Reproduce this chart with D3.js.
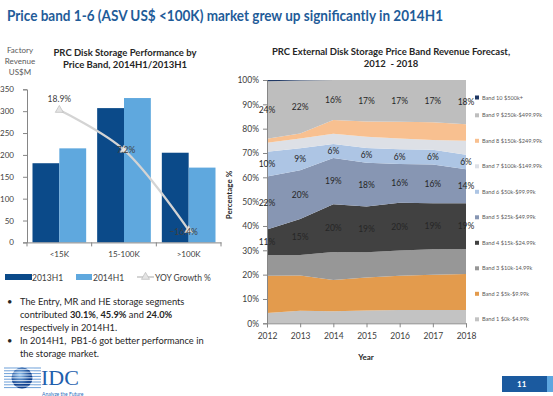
<!DOCTYPE html>
<html>
<head>
<meta charset="utf-8">
<script src="https://cdn.jsdelivr.net/npm/d3@7"></script>
<style>
  html, body { margin: 0; padding: 0; background: #fff; }
  svg { display: block; font-family: Lato, "Open Sans", sans-serif; }
</style>
</head>
<body>
<svg id="chart" width="553" height="396"></svg>
<script>
// ---------------- data: left chart ----------------
const categories = ["<15K", "15-100K", ">100K"];
const seriesNames = ["2013H1", "2014H1"];
const rev2013H1 = [181, 307, 205];
const rev2014H1 = [215, 330, 171];
const yoyGrowth = [18.9, 7.2, -16.4];
const revenueTicks = [0, 50, 100, 150, 200, 250, 300, 350];

// ---------------- data: right chart ----------------
const years = [2012, 2013, 2014, 2015, 2016, 2017, 2018];
const bandNames = [
  "Band 1 $0k-$4.99k", "Band 2 $5k-$9.99k", "Band 3 $10k-14.99k",
  "Band 4 $15k-$24.99k", "Band 5 $25k-$49.99k", "Band 6 $50k-$99.99k",
  "Band 7 $100k-$149.99k", "Band 8 $150k-$249.99k", "Band 9 $250k-$499.99k",
  "Band 10 $500k+"
];
const band1  = [4.2, 5.2, 5.0, 5.3, 5.5, 5.5, 5.5];
const band2  = [15.3, 14.4, 12.8, 13.5, 14.0, 14.5, 14.8];
const band3  = [8.6, 8.5, 11.5, 10.4, 10.4, 10.4, 10.2];
const band4  = [10.5, 14.8, 19.6, 18.8, 19.6, 18.9, 18.8];
const band5  = [21.7, 20.0, 19.0, 18.0, 16.0, 16.0, 14.0];
const band6  = [10.2, 9.0, 5.8, 6.0, 6.0, 6.0, 6.0];
const band7  = [3.7, 4.1, 4.2, 4.7, 4.5, 4.0, 5.7];
const band8  = [1.7, 2.0, 5.7, 6.2, 6.8, 7.3, 6.8];
const band9  = [23.6, 21.8, 16.4, 17.1, 17.2, 17.4, 18.2];
const band10 = [0.5, 0.2, 0.0, 0.0, 0.0, 0.0, 0.0];
const labelledBands = [3, 4, 5, 8]; // bands 4,5,6,9 carry data labels
const percentTicks = [0, 10, 20, 30, 40, 50, 60, 70, 80, 90, 100];

const bandColors = ["#c3c3c3", "#e39b4d", "#979797", "#414141", "#8796b3",
                    "#adc5e4", "#dde0e6", "#f8c090", "#bebebe", "#1f3864"];

const svg = d3.select("#chart");
svg.append("rect").attr("width", 553).attr("height", 396).attr("fill", "#fff");

// ---------------- title ----------------
svg.append("text").attr("x", 7).attr("y", 21)
  .attr("font-size", 15.5).attr("font-weight", "bold").attr("fill", "#1f5c99")
  .attr("textLength", 436).attr("lengthAdjust", "spacingAndGlyphs")
  .text("Price band 1-6 (ASV US$ <100K) market grew up significantly in 2014H1");

// ================= LEFT: bar chart =================
const x0 = d3.scaleBand().domain(categories).range([27, 221]).paddingInner(0.17).paddingOuter(0.085);
const x1 = d3.scaleBand().domain(seriesNames).range([0, x0.bandwidth()]);
const yL = d3.scaleLinear().domain([0, 350]).range([242.4, 89.3]);
const yG = d3.scaleLinear().domain([-20, 25]).range([242.4, 89.3]);
const barColors = {"2013H1": "#0b4a89", "2014H1": "#5fa8de"};

// axis title
const ytl = svg.append("text").attr("font-size", 8).attr("fill", "#595959").attr("text-anchor", "middle");
["Factory", "Revenue", "US$M"].forEach((t, i) =>
  ytl.append("tspan").attr("x", 20).attr("y", 53 + i * 11).text(t));

// chart title
const lt = svg.append("text").attr("font-size", 9.5).attr("font-weight", "bold").attr("fill", "#262626").attr("text-anchor", "middle");
lt.append("tspan").attr("x", 125).attr("y", 56).text("PRC Disk Storage Performance by");
lt.append("tspan").attr("x", 125).attr("y", 68).text("Price Band, 2014H1/2013H1");

// bars
const barRows = categories.map((c, i) => ({cat: c, values: [
  {s: "2013H1", v: rev2013H1[i]}, {s: "2014H1", v: rev2014H1[i]}]}));
const g = svg.append("g");
g.selectAll("g.grp").data(barRows).join("g")
  .attr("transform", d => `translate(${x0(d.cat)},0)`)
  .selectAll("rect").data(d => d.values).join("rect")
  .attr("x", d => x1(d.s)).attr("width", x1.bandwidth())
  .attr("y", d => yL(d.v)).attr("height", d => yL(0) - yL(d.v))
  .attr("fill", d => barColors[d.s]);

// y axis
const yAxisL = svg.append("g").attr("transform", "translate(27,0)")
  .call(d3.axisLeft(yL).tickValues(revenueTicks).tickSize(4).tickPadding(9));
yAxisL.selectAll("text").attr("font-size", 8).attr("fill", "#404040").attr("font-family", "Lato");
yAxisL.selectAll("line,path").attr("stroke", "#868686");

// x axis
const xAxisL = svg.append("g").attr("transform", `translate(0,${yL(0)})`)
  .call(d3.axisBottom(x0).tickSize(0).tickPadding(9));
xAxisL.selectAll("text").attr("font-size", 8).attr("fill", "#404040").attr("font-family", "Lato");
xAxisL.selectAll("path").attr("stroke", "#868686");
// category boundary ticks
const bounds = categories.map(c => x0(c) - x0.step() * x0.paddingInner() / 2).concat([x0.range()[1]]);
svg.append("g").selectAll("line").data(bounds).join("line")
  .attr("x1", d => d).attr("x2", d => d).attr("y1", yL(0)).attr("y2", yL(0) + 4)
  .attr("stroke", "#868686");

// YOY growth line
const cx = c => x0(c) + x0.bandwidth() / 2;
const growthPts = categories.map((c, i) => [cx(c), yG(yoyGrowth[i])]);
svg.append("path").attr("d", d3.line().curve(d3.curveCatmullRom)(growthPts))
  .attr("fill", "none").attr("stroke", "#d4d4d4").attr("stroke-width", 2.2);
const tri = d3.symbol().type(d3.symbolTriangle).size(28);
svg.append("g").selectAll("path").data(growthPts).join("path")
  .attr("d", tri).attr("transform", d => `translate(${d[0]},${d[1]})`)
  .attr("fill", "#e4e4e4").attr("stroke", "#bcbcbc").attr("stroke-width", 0.7);
const gLabelDy = [-8, 3, 5];
const gLabelDx = [0, 2, -5];
svg.append("g").selectAll("text").data(growthPts).join("text")
  .attr("x", (d, i) => d[0] + gLabelDx[i]).attr("y", (d, i) => d[1] + gLabelDy[i])
  .attr("text-anchor", "middle").attr("font-size", 8.5).attr("fill", "#404040")
  .text((d, i) => d3.format(".1f")(yoyGrowth[i]) + "%");

// legend
const lg = svg.append("g").attr("font-size", 8.5).attr("fill", "#404040");
lg.append("rect").attr("x", 5).attr("y", 274).attr("width", 27).attr("height", 6).attr("fill", barColors["2013H1"]);
lg.append("text").attr("x", 32).attr("y", 280.5).text(seriesNames[0]);
lg.append("rect").attr("x", 76).attr("y", 274).attr("width", 16).attr("height", 6).attr("fill", barColors["2014H1"]);
lg.append("text").attr("x", 93).attr("y", 280.5).text(seriesNames[1]);
lg.append("line").attr("x1", 137).attr("x2", 154).attr("y1", 277).attr("y2", 277).attr("stroke", "#d4d4d4").attr("stroke-width", 2);
lg.append("path").attr("d", tri).attr("transform", "translate(145.5,277)").attr("fill", "#e4e4e4").attr("stroke", "#bcbcbc").attr("stroke-width", 0.7);
lg.append("text").attr("x", 155).attr("y", 280.5).text("YOY Growth %");

// bullets
const bullets = svg.append("g").attr("font-size", 9.3).attr("fill", "#262626");
const bl = [
  {y: 305, b: true, parts: [["The Entry, MR and HE storage segments", 0]]},
  {y: 318, parts: [["contributed ", 0], ["30.1%", 1], [", ", 0], ["45.9%", 1], [" and ", 0], ["24.0%", 1]]},
  {y: 331, parts: [["respectively in 2014H1.", 0]]},
  {y: 344, b: true, parts: [["In 2014H1,  PB1-6 got better performance in", 0]]},
  {y: 357, parts: [["the storage market.", 0]]}
];
bl.forEach(l => {
  if (l.b) bullets.append("text").attr("x", 7).attr("y", l.y).text("•");
  const t = bullets.append("text").attr("x", 20).attr("y", l.y).attr("xml:space", "preserve");
  l.parts.forEach(p => t.append("tspan").attr("font-weight", p[1] ? "bold" : "normal").text(p[0]));
});

// IDC logo
const logo = svg.append("g");
const grad = svg.append("defs").append("radialGradient").attr("id", "sph").attr("cx", "40%").attr("cy", "35%");
grad.append("stop").attr("offset", "0%").attr("stop-color", "#8fc1ee");
grad.append("stop").attr("offset", "100%").attr("stop-color", "#0c3f8f");
d3.range(8).forEach(i => logo.append("line").attr("x1", 4).attr("x2", 41)
  .attr("y1", 368 + i * 2.8).attr("y2", 368 + i * 2.8).attr("stroke", "#6d9fd8").attr("stroke-width", 1));
logo.append("circle").attr("cx", 22).attr("cy", 378).attr("r", 10.5).attr("fill", "url(#sph)");
d3.range(7).forEach(i => logo.append("line").attr("x1", 10).attr("x2", 34)
  .attr("y1", 369.4 + i * 2.8).attr("y2", 369.4 + i * 2.8).attr("stroke", "#fff").attr("stroke-width", 0.8));
logo.append("text").attr("x", 41).attr("y", 385).attr("font-family", "Liberation Serif")
  .attr("font-size", 22).attr("fill", "#1f5fad").text("IDC");
logo.append("text").attr("x", 42).attr("y", 395.5).attr("font-size", 5).attr("fill", "#2a6ebb").text("Analyze the Future");

// page number
svg.append("rect").attr("x", 502).attr("y", 376).attr("width", 45).attr("height", 16).attr("fill", "#1b5a9f");
svg.append("rect").attr("x", 547).attr("y", 376).attr("width", 6).attr("height", 16).attr("fill", "#5da6e0");
svg.append("text").attr("x", 517).attr("y", 387).attr("font-size", 8).attr("font-weight", "bold").attr("fill", "#fff").text("11");

// ================= RIGHT: stacked area =================
const xR = d3.scaleLinear().domain([2012, 2018]).range([267, 466]);
const yR = d3.scaleLinear().domain([0, 100]).range([323.3, 80]);
const bands = [band1, band2, band3, band4, band5, band6, band7, band8, band9, band10];
const table = years.map((yr, i) => {
  const row = {year: yr};
  bands.forEach((b, k) => row["b" + k] = b[i]);
  return row;
});
const keys = bands.map((b, k) => "b" + k);
const stacked = d3.stack().keys(keys)(table);
const area = d3.area().x(d => xR(d.data.year)).y0(d => yR(d[0])).y1(d => yR(d[1]));
svg.append("g").selectAll("path").data(stacked).join("path")
  .attr("d", area).attr("fill", (d, k) => bandColors[k]);

// titles
const rt = svg.append("text").attr("font-size", 9.5).attr("font-weight", "bold").attr("fill", "#262626").attr("text-anchor", "middle");
rt.append("tspan").attr("x", 391).attr("y", 55).text("PRC External Disk Storage Price Band Revenue Forecast,");
rt.append("tspan").attr("x", 391).attr("y", 67).attr("xml:space", "preserve").text("2012  - 2018");

// axes
const yAxisR = svg.append("g").attr("transform", "translate(267,0)")
  .call(d3.axisLeft(yR).tickValues(percentTicks).tickFormat(d => d + "%").tickSize(4).tickPadding(4));
yAxisR.selectAll("text").attr("font-size", 8.5).attr("fill", "#404040").attr("font-family", "Lato");
yAxisR.selectAll("line,path").attr("stroke", "#868686");
const xAxisR = svg.append("g").attr("transform", `translate(0,${yR(0)})`)
  .call(d3.axisBottom(xR).tickValues(years).tickFormat(d3.format("d")).tickSize(4).tickPadding(6));
xAxisR.selectAll("text").attr("font-size", 8.5).attr("fill", "#404040").attr("font-family", "Lato");
xAxisR.selectAll("line,path").attr("stroke", "#868686");

svg.append("text").attr("x", 366).attr("y", 360).attr("text-anchor", "middle")
  .attr("font-size", 8).attr("font-weight", "bold").attr("fill", "#262626").text("Year");
svg.append("text").attr("transform", "translate(232,195) rotate(-90)").attr("text-anchor", "middle")
  .attr("font-size", 8).attr("font-weight", "bold").attr("fill", "#262626").text("Percentage %");

// data labels
const lblG = svg.append("g").attr("font-size", 8.5).attr("fill", "#262626").attr("text-anchor", "middle");
labelledBands.forEach(k => {
  lblG.selectAll(null).data(stacked[k]).join("text")
    .attr("x", d => xR(d.data.year)).attr("y", d => yR((d[0] + d[1]) / 2) + 3)
    .text(d => Math.round(d[1] - d[0]) + "%");
});

// legend
const legY = k => k === 9 ? 97.5 : 115.3 + (8 - k) * 25.5;
const rl = svg.append("g").attr("font-size", 5.6).attr("fill", "#595959");
bands.forEach((b, k) => {
  rl.append("rect").attr("x", 475).attr("y", legY(k) - 2).attr("width", 4).attr("height", 4).attr("fill", bandColors[k]);
  rl.append("text").attr("x", 482).attr("y", legY(k) + 2).text(bandNames[k]);
});
</script>
</body>
</html>
